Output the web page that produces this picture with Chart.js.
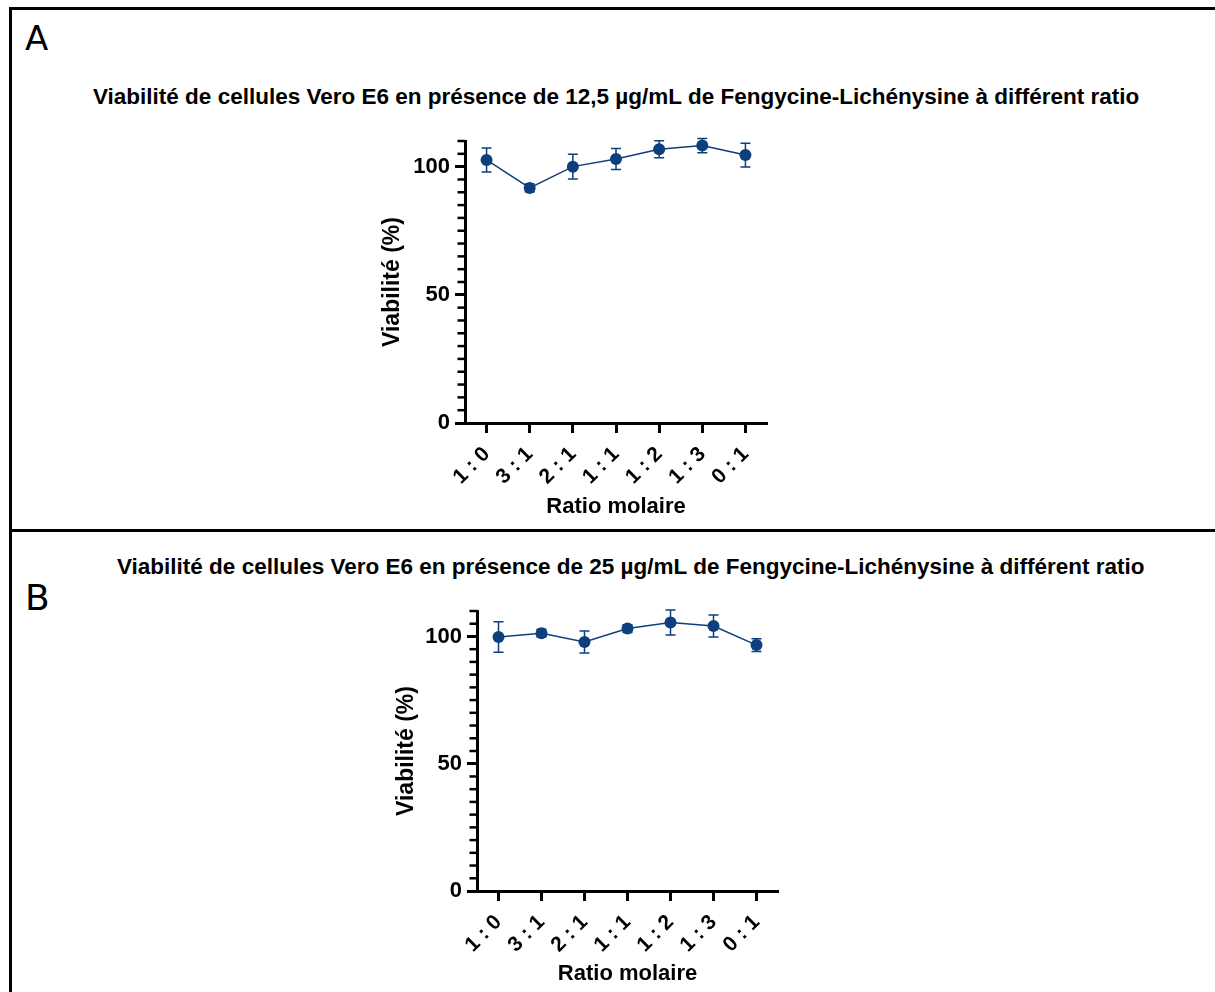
<!DOCTYPE html>
<html lang="fr">
<head>
<meta charset="utf-8">
<title>Viabilité Vero E6 - Fengycine-Lichénysine</title>
<script src="https://cdn.jsdelivr.net/npm/chart.js@4.4.1/dist/chart.umd.min.js"></script>
<style>
  html, body { margin: 0; padding: 0; background: #fff; }
  body { width: 1215px; height: 992px; position: relative; overflow: hidden; font-family: "Liberation Sans", Arial, sans-serif; }
  .frame { position: absolute; left: 9px; top: 7px; width: 1230px; height: 1000px; border-left: 3px solid #000; border-top: 3px solid #000; }
  .divider { position: absolute; left: 9px; top: 529px; width: 1230px; height: 3px; background: #000; }
  .letter { position: absolute; font-family: "DejaVu Sans", sans-serif; line-height: 1; color: #000; }
  .title { position: absolute; font-weight: bold; font-size: 22.5px; line-height: 22px; white-space: nowrap; color: #000; }
  canvas { position: absolute; left: 0; }
</style>
</head>
<body>
<div class="frame"></div>
<div class="divider"></div>
<div class="letter" style="left:25px; top:21px; font-size:34px;">A</div>
<div class="letter" style="left:25px; top:580px; font-size:36px;">B</div>
<div class="title" style="left:93px; top:86px;">Viabilité de cellules Vero E6 en présence de 12,5 µg/mL de Fengycine-Lichénysine à différent ratio</div>
<div class="title" style="left:117px; top:556px;">Viabilité de cellules Vero E6 en présence de 25 µg/mL de Fengycine-Lichénysine à différent ratio</div>
<canvas id="chart-a" width="1215" height="529" style="top:0;"></canvas>
<canvas id="chart-b" width="1215" height="462" style="top:530px;"></canvas>
<script>
// ratios molaires Fengycine : Lichénysine
const ratios = ['1 : 0', '3 : 1', '2 : 1', '1 : 1', '1 : 2', '1 : 3', '0 : 1'];

// 12,5 µg/mL
const viabA = [102.6, 91.7, 100.0, 103.0, 106.8, 108.2, 104.5];
const sdA = [4.7, 1.5, 4.8, 4.1, 3.3, 2.8, 4.6];

// 25 µg/mL
const viabB = [99.8, 101.3, 97.8, 103.1, 105.5, 104.1, 96.6];
const sdB = [6.0, 1.5, 4.3, 1.5, 4.9, 4.3, 2.5];

const yMajor = [0, 50, 100];
const yMax = 110;
const yStep = 5;

const BLUE = '#0e3f7d';
const FONT = '"Liberation Sans", Arial, sans-serif';

// barres d'erreur (moyenne ± écart-type), dessinées sous les points
const errorBars = {
    id: 'errorBars',
    beforeDatasetsDraw(chart) {
        const ctx = chart.ctx;
        const y = chart.scales.y;
        chart.data.datasets.forEach((ds, i) => {
            const meta = chart.getDatasetMeta(i);
            ctx.save();
            ctx.strokeStyle = BLUE;
            ctx.lineWidth = 1.5;
            meta.data.forEach((pt, j) => {
                const top = y.getPixelForValue(ds.data[j] + ds.errors[j]);
                const bot = y.getPixelForValue(ds.data[j] - ds.errors[j]);
                ctx.beginPath();
                ctx.moveTo(pt.x, top);
                ctx.lineTo(pt.x, bot);
                ctx.moveTo(pt.x - 5, top);
                ctx.lineTo(pt.x + 5, top);
                ctx.moveTo(pt.x - 5, bot);
                ctx.lineTo(pt.x + 5, bot);
                ctx.stroke();
            });
            ctx.restore();
        });
    }
};

// petites graduations de l'axe Y (tous les 5 %)
const minorTicks = {
    id: 'minorTicks',
    afterDraw(chart) {
        const ctx = chart.ctx;
        const y = chart.scales.y;
        const left = chart.chartArea.left;
        ctx.save();
        ctx.strokeStyle = '#000';
        ctx.lineWidth = 2.5;
        y.ticks.forEach(t => {
            if (yMajor.includes(t.value)) return;
            const py = y.getPixelForValue(t.value);
            ctx.beginPath();
            ctx.moveTo(left - 7.5, py);
            ctx.lineTo(left, py);
            ctx.stroke();
        });
        ctx.restore();
    }
};

function buildChart(canvas, values, errors, box) {
    return new Chart(canvas, {
        type: 'line',
        data: {
            labels: ratios,
            datasets: [{
                data: values,
                errors: errors,
                borderColor: BLUE,
                backgroundColor: BLUE,
                borderWidth: 1.5,
                pointRadius: 6,
                pointBorderWidth: 0,
                pointBackgroundColor: BLUE,
                tension: 0,
                clip: false
            }]
        },
        options: {
            responsive: false,
            animation: false,
            events: [],
            layout: { padding: { left: box.left, right: box.right, top: box.top, bottom: 0 } },
            plugins: {
                legend: { display: false },
                tooltip: { enabled: false }
            },
            scales: {
                x: {
                    type: 'category',
                    offset: true,
                    border: { color: '#000', width: 3 },
                    grid: { offset: false, drawOnChartArea: false, tickLength: 10, tickWidth: 3, tickColor: '#000' },
                    ticks: {
                        color: '#000',
                        autoSkip: false,
                        minRotation: 45,
                        maxRotation: 45,
                        padding: 9,
                        font: { family: FONT, size: 21, weight: 'bold' }
                    },
                    title: {
                        display: true,
                        text: 'Ratio molaire',
                        color: '#000',
                        font: { family: FONT, size: 22, weight: 'bold' },
                        padding: { top: 0, bottom: box.xTitlePad }
                    },
                    afterFit: s => { s.height = box.xHeight; }
                },
                y: {
                    min: 0,
                    max: yMax,
                    border: { color: '#000', width: 3 },
                    grid: {
                        drawOnChartArea: false,
                        tickLength: 10,
                        tickWidth: 3,
                        tickColor: c => yMajor.includes(c.tick.value) ? '#000' : 'rgba(0,0,0,0)'
                    },
                    ticks: {
                        stepSize: yStep,
                        autoSkip: false,
                        color: '#000',
                        padding: 5,
                        font: { family: FONT, size: 22, weight: 'bold' },
                        callback: v => yMajor.includes(v) ? v : ''
                    },
                    title: {
                        display: true,
                        text: 'Viabilité (%)',
                        color: '#000',
                        font: { family: FONT, size: 23, weight: 'bold' },
                        padding: { top: box.yTitlePad, bottom: 0 }
                    },
                    afterFit: s => { s.width = box.yWidth; }
                }
            }
        },
        plugins: [errorBars, minorTicks]
    });
}

buildChart(document.getElementById('chart-a'), viabA, sdA,
    { left: 365, right: 448, top: 141, yWidth: 100, xHeight: 106, xTitlePad: 8.5, yTitlePad: 14 });
buildChart(document.getElementById('chart-b'), viabB, sdB,
    { left: 377, right: 437, top: 81, yWidth: 100, xHeight: 101, xTitlePad: 5.3, yTitlePad: 16 });
</script>
</body>
</html>
